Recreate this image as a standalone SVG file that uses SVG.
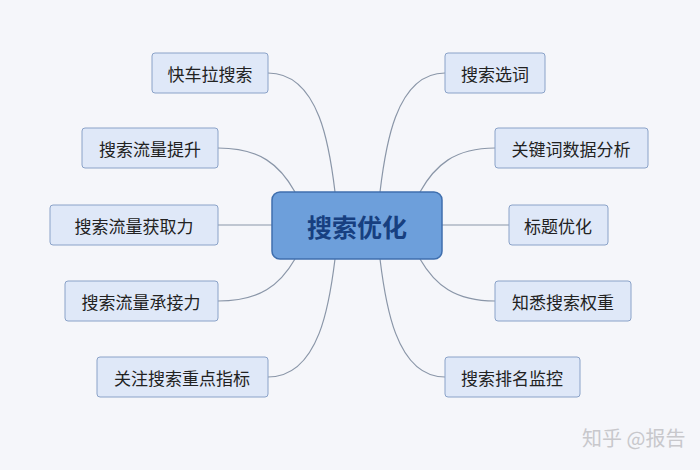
<svg xmlns="http://www.w3.org/2000/svg" width="700" height="470" viewBox="0 0 700 470">
<style>
.leaf rect{fill:#dfe8f8;stroke:#8aa2c8;stroke-width:1}
.leaf text{font-family:"Noto Sans CJK SC",sans-serif;font-size:17px;fill:#222;text-anchor:middle;dominant-baseline:central}
.c path{fill:none;stroke:#8a96a8;stroke-width:1.2}
</style>
<rect width="700" height="470" fill="#f5f6fa"/>
<g class="c">
<path d="M268,73 C320,73 330,150 335,192"/>
<path d="M218,148 C260,148 280,165 295,192"/>
<path d="M218,225 L272,225"/>
<path d="M218,301 C260,301 280,285 295,259"/>
<path d="M268,377 C320,377 330,300 335,259"/>
<path d="M445,73 C395,73 385,150 380,192"/>
<path d="M495,148 C455,148 435,165 420,192"/>
<path d="M442,225 L509,225"/>
<path d="M495,301 C455,301 435,285 420,259"/>
<path d="M445,377 C395,377 385,300 380,259"/>
</g>
<g id="center"><rect x="272" y="192" width="170" height="67" rx="8" fill="#6d9fdb" stroke="#3f6fae" stroke-width="1.5"/>
<text x="357" y="226" font-family="Noto Sans CJK SC,sans-serif" font-size="25" font-weight="bold" fill="#173f80" text-anchor="middle" dominant-baseline="central">搜索优化</text></g>
<g id="n1" class="leaf"><rect x="152" y="53" width="116" height="40" rx="3"/><text x="210" y="73">快车拉搜索</text></g>
<g id="n2" class="leaf"><rect x="82" y="128" width="136" height="40" rx="3"/><text x="150" y="148">搜索流量提升</text></g>
<g id="n3" class="leaf"><rect x="50" y="205" width="168" height="40" rx="3"/><text x="134" y="225">搜索流量获取力</text></g>
<g id="n4" class="leaf"><rect x="65" y="281" width="153" height="40" rx="3"/><text x="141" y="301">搜索流量承接力</text></g>
<g id="n5" class="leaf"><rect x="97" y="357" width="171" height="40" rx="3"/><text x="182" y="377">关注搜索重点指标</text></g>
<g id="n6" class="leaf"><rect x="445" y="53" width="100" height="40" rx="3"/><text x="495" y="73">搜索选词</text></g>
<g id="n7" class="leaf"><rect x="495" y="128" width="153" height="40" rx="3"/><text x="571" y="148">关键词数据分析</text></g>
<g id="n8" class="leaf"><rect x="509" y="205" width="99" height="40" rx="3"/><text x="558" y="225">标题优化</text></g>
<g id="n9" class="leaf"><rect x="495" y="281" width="136" height="40" rx="3"/><text x="563" y="301">知悉搜索权重</text></g>
<g id="n10" class="leaf"><rect x="445" y="357" width="135" height="40" rx="3"/><text x="512" y="377">搜索排名监控</text></g>
<text x="582" y="437" font-family="Noto Sans CJK SC,sans-serif" font-size="20" fill="#c8c8cc" dominant-baseline="central">知乎 @报告</text>
</svg>
